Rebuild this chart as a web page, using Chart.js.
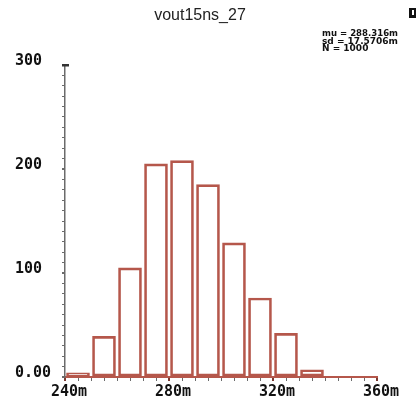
<!DOCTYPE html>
<html>
<head>
<meta charset="utf-8">
<script src="https://cdn.jsdelivr.net/npm/chart.js@4/dist/chart.umd.min.js"></script>
<style>
  html, body { margin: 0; padding: 0; background: #fff; }
  #wrap { width: 420px; height: 402px; position: relative; }
</style>
</head>
<body>
<div id="wrap"><canvas id="c" width="420" height="402"></canvas></div>
<script>
// Histogram of vout15ns_27 (1000 Monte Carlo samples), 10m bins
const binStarts = [240, 250, 260, 270, 280, 290, 300, 310, 320, 330, 340];
const counts    = [4, 39, 105, 205, 208, 185, 129, 76, 42, 7, 0];
const binWidth = 10;
const xMajorTicks = [240, 280, 320, 360];
const yMajorTicks = [0, 100, 200, 300];
const yTickLabels = ['0.00', '100', '200', '300'];
const titleText = 'vout15ns_27';
const statLines = ['mu = 288.316m', 'sd = 17.5706m', 'N = 1000'];

const barColor = '#b5574b';
const axisGray = '#6b6b6b';
const labelFont = { family: '"DejaVu Sans Mono", monospace', size: 15, weight: 'bold' };

const points = binStarts.map((s, i) => ({ x: s + binWidth / 2, y: counts[i] }));

const decorations = {
  id: 'decorations',
  afterDraw(chart) {
    const ctx = chart.ctx;
    ctx.save();
    ctx.fillStyle = '#222';
    ctx.font = '16px "Liberation Sans", Arial, sans-serif';
    ctx.textAlign = 'center';
    ctx.textBaseline = 'middle';
    ctx.fillText(titleText, 200, 16);

    ctx.fillStyle = '#111';
    ctx.font = 'bold 9px "DejaVu Sans", sans-serif';
    ctx.textAlign = 'left';
    statLines.forEach((t, i) => ctx.fillText(t, 322, 34 + i * 7.5, 76));

    // small window marker, top right
    ctx.fillStyle = '#111';
    ctx.fillRect(409, 8, 7, 10);
    ctx.fillStyle = '#fff';
    ctx.fillRect(411, 10, 3, 6);
    ctx.fillStyle = '#111';
    ctx.fillRect(411, 10, 1, 6);
    ctx.fillRect(411, 15, 3, 1);

    // heavier end mark at the top of the count axis
    const ys = chart.scales.y;
    const yTop = ys.getPixelForValue(300);
    ctx.fillStyle = '#333';
    ctx.fillRect(ys.right - 3, yTop - 1, 7, 2.5);
    ctx.restore();
  }
};

new Chart(document.getElementById('c'), {
  type: 'bar',
  data: {
    datasets: [{
      data: points,
      backgroundColor: 'rgba(255,255,255,0)',
      borderColor: barColor,
      borderWidth: 2,
      borderSkipped: false,
      barThickness: 23,
      categoryPercentage: 1.0
    }]
  },
  options: {
    responsive: false,
    animation: false,
    devicePixelRatio: 1,
    layout: { padding: { left: 15, right: 43, top: 65, bottom: 0 } },
    plugins: { legend: { display: false }, tooltip: { enabled: false }, title: { display: false } },
    scales: {
      x: {
        type: 'linear',
        min: 240,
        max: 360,
        offset: false,
        grid: {
          offset: false,
          drawOnChartArea: false,
          tickLength: 4,
          color: (c) => (xMajorTicks.includes(c.tick && c.tick.value) ? '#7a3a32' : axisGray),
          lineWidth: (c) => (xMajorTicks.includes(c.tick && c.tick.value) ? 2 : 1)
        },
        border: { color: barColor, width: 2 },
        ticks: {
          stepSize: 5,
          autoSkip: false,
          maxRotation: 0,
          padding: 2,
          labelOffset: 4,
          color: '#111',
          font: labelFont,
          callback: (v) => (xMajorTicks.includes(v) ? v + 'm' : '')
        },
        afterFit: (s) => { s.height = 25; }
      },
      y: {
        min: 0,
        max: 300,
        grid: {
          drawOnChartArea: false,
          tickLength: 3,
          color: axisGray,
          lineWidth: (c) => (yMajorTicks.includes(c.tick && c.tick.value) ? 2 : 1)
        },
        border: { color: axisGray, width: 1.5 },
        ticks: {
          stepSize: 10,
          autoSkip: false,
          crossAlign: 'far',
          labelOffset: -4,
          color: '#111',
          font: labelFont,
          callback: (v) => {
            const k = yMajorTicks.indexOf(v);
            return k >= 0 ? yTickLabels[k] : '';
          }
        },
        afterFit: (s) => { s.width = 50; }
      }
    }
  },
  plugins: [decorations]
});
</script>
</body>
</html>
